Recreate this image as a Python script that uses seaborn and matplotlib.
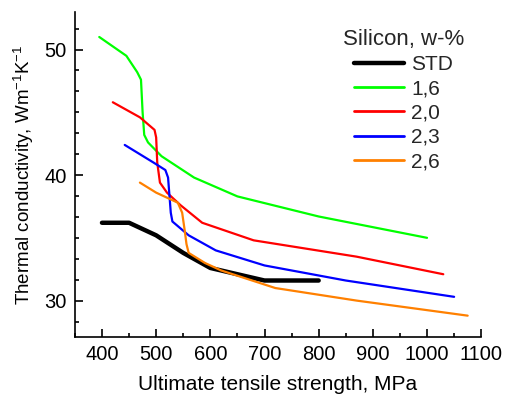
import pandas as pd
import matplotlib
matplotlib.use('Agg')
import matplotlib.pyplot as plt
from matplotlib.ticker import MultipleLocator
import seaborn as sns

std_x = [400, 450, 500, 550, 600, 650, 700, 800]
std_y = [36.2, 36.2, 35.2, 33.8, 32.6, 32.1, 31.6, 31.6]

si16_x = [395, 445, 465, 472, 475, 478, 485, 510, 570, 650, 800, 1000]
si16_y = [51.0, 49.5, 48.2, 47.6, 45.0, 43.2, 42.6, 41.5, 39.8, 38.3, 36.7, 35.0]

si20_x = [420, 470, 497, 500, 502, 507, 520, 545, 585, 680, 870, 1030]
si20_y = [45.8, 44.6, 43.6, 43.0, 41.0, 39.4, 38.6, 37.6, 36.2, 34.8, 33.5, 32.1]

si23_x = [442, 495, 517, 522, 527, 530, 560, 610, 700, 850, 1050]
si23_y = [42.4, 41.0, 40.4, 39.8, 37.0, 36.3, 35.2, 34.0, 32.8, 31.6, 30.3]

si26_x = [470, 500, 540, 548, 553, 556, 560, 590, 620, 720, 870, 1075]
si26_y = [39.4, 38.6, 37.8, 37.0, 35.5, 34.5, 33.8, 33.0, 32.4, 31.0, 30.0, 28.8]

labels = ['STD', '1,6', '2,0', '2,3', '2,6']
colors = ['#000000', '#00ff00', '#ff0000', '#0000ff', '#ff8000']
series = [(std_x, std_y), (si16_x, si16_y), (si20_x, si20_y),
          (si23_x, si23_y), (si26_x, si26_y)]

frames = []
for lab, (xs, ys) in zip(labels, series):
    frames.append(pd.DataFrame({'UTS': xs, 'k': ys, 'Silicon': lab}))
df = pd.concat(frames, ignore_index=True)

sns.set_theme(style='ticks')
plt.rcParams['font.family'] = ['Liberation Sans', 'DejaVu Sans']
plt.rcParams['mathtext.fontset'] = 'custom'
plt.rcParams['mathtext.rm'] = 'Liberation Sans'
plt.rcParams['mathtext.it'] = 'Liberation Sans'
plt.rcParams['axes.unicode_minus'] = False

fig = plt.figure(figsize=(5.06, 3.96), dpi=100)
ax = fig.add_axes([0.148, 0.149, 0.803, 0.821])

sns.lineplot(data=df, x='UTS', y='k', hue='Silicon', hue_order=labels,
             palette=dict(zip(labels, colors)), sort=False, estimator=None,
             linewidth=1.6, ax=ax)
# thicker reference line
ax.lines[0].set_linewidth(3.2)

ax.set_xlim(350, 1100)
ax.set_ylim(27.1, 53.0)
ax.xaxis.set_major_locator(MultipleLocator(100))
ax.xaxis.set_minor_locator(MultipleLocator(50))
ax.yaxis.set_major_locator(MultipleLocator(10))
ax.yaxis.set_minor_locator(MultipleLocator(10 / 6))
ax.tick_params(which='both', direction='in', labelsize=14.5, color='black',
               labelcolor='black', width=1.2, pad=6)
ax.tick_params(which='major', length=6)
ax.tick_params(which='minor', length=3)
for side in ['top', 'right']:
    ax.spines[side].set_visible(False)
for side in ['left', 'bottom']:
    ax.spines[side].set_color('black')
    ax.spines[side].set_linewidth(1.2)

ax.set_xlabel('Ultimate tensile strength, MPa', fontsize=15, color='black',
              labelpad=8)
ax.set_ylabel('Thermal conductivity, Wm$^{-1}$K$^{-1}$', fontsize=13.5,
              color='black', labelpad=6)

handles, _ = ax.get_legend_handles_labels()
leg = ax.legend(handles, labels, title='Silicon, w-%', frameon=False,
                loc='upper right', bbox_to_anchor=(0.978, 0.973),
                borderaxespad=0, fontsize=15, title_fontsize=16,
                handlelength=2.4, labelspacing=0.25, handletextpad=0.35)
for line in leg.get_lines():
    line.set_linewidth(2.0)
leg.get_lines()[0].set_linewidth(3.2)

fig.savefig('out.png', dpi=100)
